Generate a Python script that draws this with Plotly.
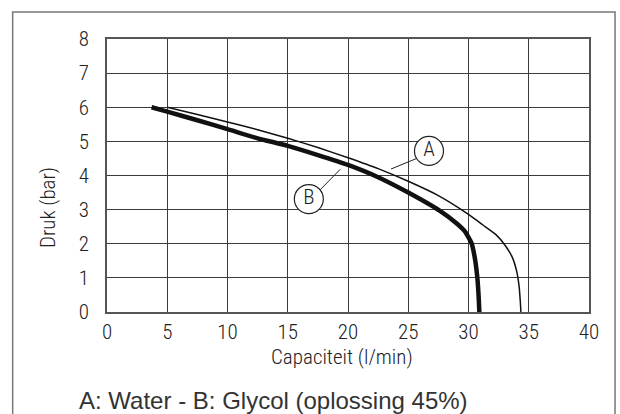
import plotly.graph_objects as go

# Curve A: Water (thin)
a_x = [5.0, 7.5, 10.0, 12.5, 15.0, 17.5, 20.0, 22.5, 25.0, 27.5, 30.0, 31.2, 32.3, 33.0, 33.6, 34.0, 34.2, 34.3, 34.35]
a_y = [6.0, 5.79, 5.57, 5.34, 5.09, 4.82, 4.52, 4.20, 3.83, 3.41, 2.86, 2.55, 2.26, 1.97, 1.63, 1.19, 0.75, 0.30, 0.0]
# Curve B: Glycol 45% (thick)
b_x = [3.7, 5.0, 7.5, 10.0, 12.5, 15.0, 17.5, 20.0, 22.5, 25.0, 27.6, 29.0, 29.7, 30.25, 30.55, 30.75, 30.85, 30.9]
b_y = [6.0, 5.87, 5.62, 5.36, 5.09, 4.87, 4.60, 4.31, 3.95, 3.50, 2.97, 2.60, 2.36, 2.02, 1.53, 0.94, 0.40, 0.0]

x_ticks = [0, 5, 10, 15, 20, 25, 30, 35, 40]
y_ticks = [0, 1, 2, 3, 4, 5, 6, 7, 8]

label_names = ["A", "B"]
label_x = [26.72, 16.75]
label_y = [4.72, 3.31]
leader_x = [[23.57, 25.7], [19.35, 17.69]]
leader_y = [[4.19, 4.50], [4.18, 3.58]]

NARROW = "Roboto Condensed, Liberation Sans Narrow, sans-serif"
REG = "Liberation Sans, Arial, Helvetica, sans-serif"
W = 300

fig = go.Figure()
fig.add_trace(go.Scatter(x=a_x, y=a_y, mode="lines",
                         line=dict(color="#111", width=1.5, shape="spline", smoothing=0.5),
                         showlegend=False, hoverinfo="skip"))
fig.add_trace(go.Scatter(x=b_x, y=b_y, mode="lines",
                         line=dict(color="#111", width=4.5, shape="spline", smoothing=0.5),
                         showlegend=False, hoverinfo="skip"))
for lx, ly in zip(leader_x, leader_y):
    fig.add_trace(go.Scatter(x=lx, y=ly, mode="lines", line=dict(color="#222", width=1),
                             showlegend=False, hoverinfo="skip"))
fig.add_trace(go.Scatter(x=label_x, y=label_y, mode="markers+text", text=label_names,
                         textposition="middle center",
                         textfont=dict(family=NARROW, size=21, color="#222", weight=W),
                         marker=dict(symbol="circle", size=29, color="white",
                                     line=dict(color="#222", width=1.2)),
                         showlegend=False, hoverinfo="skip"))

axis_common = dict(showgrid=True, gridcolor="#3a3a3a", gridwidth=1, zeroline=False,
                   showline=True, linecolor="#555", linewidth=1.5, mirror=True,
                   ticks="", tickfont=dict(family=NARROW, size=21, color="#222", weight=W))
fig.update_xaxes(range=[0, 40], tickvals=x_ticks, ticktext=[str(v) for v in x_ticks],
                 ticklabelstandoff=0, **axis_common)
fig.update_yaxes(range=[0, 8], tickvals=y_ticks, ticktext=[str(v) for v in y_ticks],
                 ticklabelstandoff=12, **axis_common)

fig.add_annotation(text="Capaciteit (l/min)", xref="paper", yref="paper", x=0.4876, y=-0.165,
                   showarrow=False, xanchor="center", yanchor="middle",
                   font=dict(family=NARROW, size=21, color="#222", weight=W))
fig.add_annotation(text="Druk (bar)", xref="paper", yref="paper", x=-0.1224, y=0.381,
                   showarrow=False, xanchor="center", yanchor="middle", textangle=-90,
                   font=dict(family=NARROW, size=21, color="#222", weight=W))
fig.add_annotation(text="A: Water - B: Glycol (oplossing 45%)", xref="paper", yref="paper",
                   x=-0.0622, y=-0.325, showarrow=False, xanchor="left", yanchor="middle",
                   font=dict(family=REG, size=24, color="#333"))

fig.add_shape(type="rect", xref="paper", yref="paper", x0=-0.1957, x1=1.054, y0=-0.6, y1=1.0987,
              line=dict(color="#777", width=1.5), fillcolor="rgba(0,0,0,0)", layer="below")

fig.update_layout(width=620, height=414, margin=dict(l=107, r=31, t=39, b=102),
                  plot_bgcolor="white", paper_bgcolor="white")
fig.write_html("out.html")
